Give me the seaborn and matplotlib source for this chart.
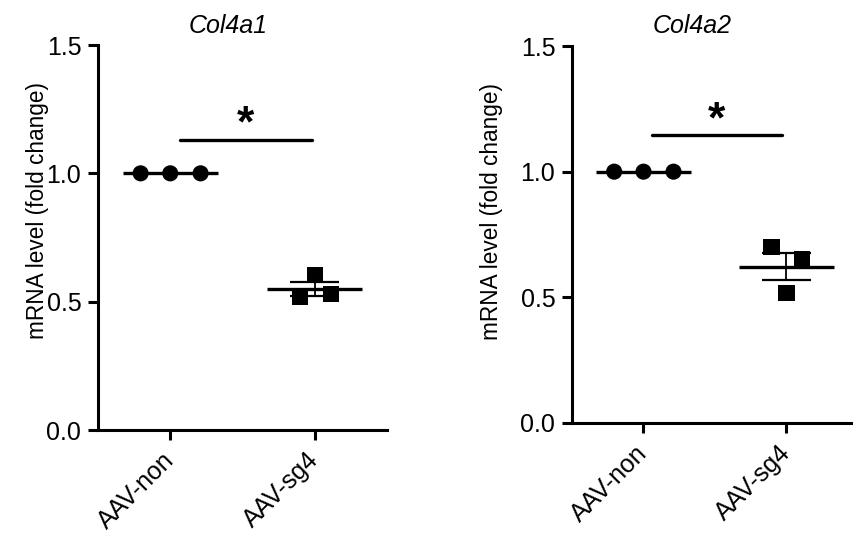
import numpy as np
import pandas as pd
import matplotlib
matplotlib.use("Agg")
import matplotlib.pyplot as plt
import seaborn as sns

# ---- data ----
groups = ["AAV-non", "AAV-sg4"]
genes = ["Col4a1", "Col4a2"]
col4a1_non = [1.0, 1.0, 1.0]
col4a1_sg4 = [0.517, 0.603, 0.529]
col4a2_non = [1.0, 1.0, 1.0]
col4a2_sg4 = [0.700, 0.516, 0.652]
y_ticks = [0.0, 0.5, 1.0, 1.5]
y_label = "mRNA level (fold change)"

# ---- layout constants ----
non_offsets = [-0.205, 0.0, 0.21]
sg4_offsets = [-0.105, 0.0, 0.11]

sns.set_theme(style="ticks")
plt.rcParams["font.family"] = ["Liberation Sans", "DejaVu Sans"]

fig = plt.figure(figsize=(8.54, 5.45), dpi=100)
ax1 = fig.add_axes([98/854, 1-430/545, (387-98)/854, (430-45)/545])
ax2 = fig.add_axes([572/854, 1-423/545, (858-572)/854, (423-46)/545])

panels = [
    (ax1, col4a1_non, col4a1_sg4, 1.128, (0.07, 0.98), 0.52, 1.142, 228, 38, 339),
    (ax2, col4a2_non, col4a2_sg4, 1.145, (0.06, 0.97), 0.51, 1.158, 692, 492, 340),
]

FS = 18
for i, (ax, non, sg4, bar_y, bar_x, star_x, star_y, title_px, ylab_px, ylab_bot) in enumerate(panels):
    df = pd.DataFrame({
        "group": [groups[0]] * len(non) + [groups[1]] * len(sg4),
        "value": non + sg4,
        "x": [0 + o for o in non_offsets] + [1 + o for o in sg4_offsets],
    })
    # mean + SEM
    for gi, g in enumerate(groups):
        vals = np.array(df.loc[df.group == g, "value"])
        m = vals.mean()
        se = vals.std(ddof=1) / np.sqrt(len(vals))
        ax.hlines(m, gi - 0.33, gi + 0.33, color="black", lw=2.4, zorder=4)
        if se > 0:
            ax.vlines(gi, m - se, m + se, color="black", lw=1.3, zorder=4)
            ax.hlines([m - se, m + se], gi - 0.17, gi + 0.17, color="black", lw=1.6, zorder=4)
    sns.scatterplot(data=df, x="x", y="value", style="group",
                    markers={groups[0]: "o", groups[1]: "s"},
                    color="black", s=135, edgecolor="black", linewidth=0,
                    legend=False, ax=ax, zorder=3)
    ax.set_xlim(-0.5, 1.5)
    ax.set_ylim(0, 1.5)
    ax.set_xticks([0, 1])
    ax.set_xticklabels(groups, rotation=45, ha="right", va="center",
                       rotation_mode="anchor", fontsize=FS)
    ax.set_yticks(y_ticks)
    ax.set_yticklabels([f"{t:.1f}" for t in y_ticks], fontsize=FS)
    ax.set_xlabel("")
    ax.set_ylabel("")
    ax.tick_params(axis="both", width=2.2, length=7, color="black", labelcolor="black")
    ax.tick_params(axis="y", pad=5)
    ax.tick_params(axis="x", pad=12)
    for sp in ["top", "right"]:
        ax.spines[sp].set_visible(False)
    for sp in ["left", "bottom"]:
        ax.spines[sp].set_linewidth(2.2)
        ax.spines[sp].set_color("black")
    # significance
    ax.hlines(bar_y, bar_x[0], bar_x[1], color="black", lw=2.4, capstyle="round")
    ax.text(star_x, star_y, "*", ha="center", va="baseline",
            fontsize=32, fontweight="bold", color="black")
    fig.text(title_px / 854, 1 - 33 / 545, genes[i], ha="center", va="baseline",
             fontsize=FS, style="italic", color="black")
    fig.text(ylab_px / 854, 1 - ylab_bot / 545, y_label, rotation=90,
             ha="center", va="bottom", fontsize=16.3, color="black")

fig.savefig("out.png", dpi=100)
